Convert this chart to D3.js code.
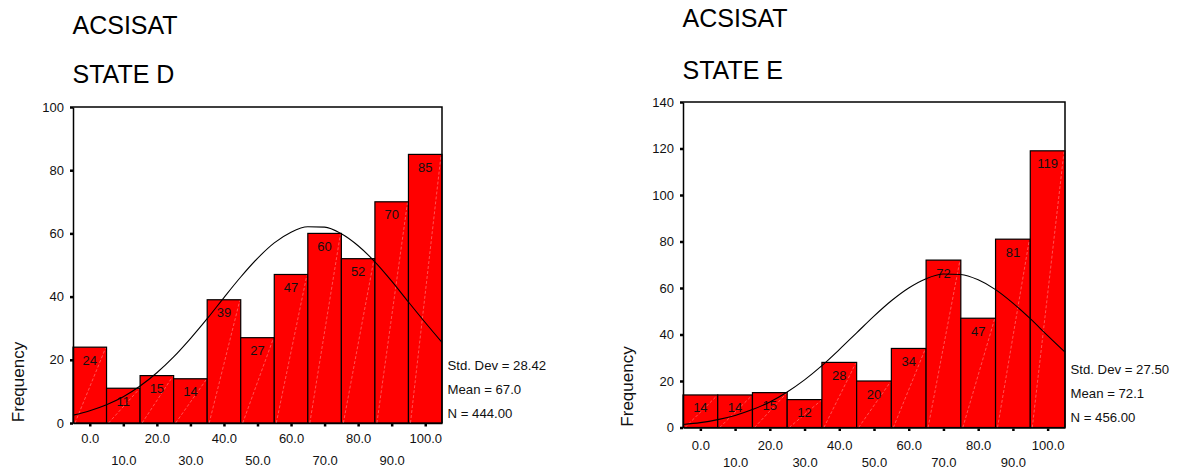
<!DOCTYPE html>
<html>
<head>
<meta charset="utf-8">
<script src="https://cdn.jsdelivr.net/npm/d3@7"></script>
<style>
  body { margin: 0; background: #fff; }
  svg { display: block; font-family: "Liberation Sans", Arial, sans-serif; }
  .domain { stroke: #000; stroke-width: 1.5; }
  .tick line { stroke: #000; stroke-width: 2.5; }
  .tick text { fill: #111; font-size: 13px; }
</style>
</head>
<body>
<svg id="chart" width="1180" height="470"></svg>
<script>
// bin centres (width 10) and frequencies
const bins = [0, 10, 20, 30, 40, 50, 60, 70, 80, 90, 100];
const countsD = [24, 11, 15, 14, 39, 27, 47, 60, 52, 70, 85];
const countsE = [14, 14, 15, 12, 28, 20, 34, 72, 47, 81, 119];

// normal curve
const curveX = [-5, 0, 5, 10, 15, 20, 25, 30, 35, 40, 45, 50, 55, 60, 65, 70, 75, 80, 85, 90, 95, 100, 105];
const curveD = [2.5, 3.9, 5.8, 8.3, 11.7, 15.9, 20.9, 26.7, 33.0, 39.7, 46.2, 52.1, 57.0, 60.4, 62.1, 62.0, 59.9, 56.1, 51.0, 44.9, 38.3, 31.8, 25.5];
const curveE = [1.3, 2.1, 3.4, 5.2, 7.7, 11.0, 15.3, 20.5, 26.6, 33.5, 40.7, 47.9, 54.5, 60.0, 64.0, 66.0, 65.8, 63.5, 59.3, 53.5, 46.8, 39.5, 32.4];

const yTicksD = [0, 20, 40, 60, 80, 100];
const yTicksE = [0, 20, 40, 60, 80, 100, 120, 140];

const statsD = ["Std. Dev = 28.42", "Mean = 67.0", "N = 444.00"];
const statsE = ["Std. Dev = 27.50", "Mean = 72.1", "N = 456.00"];

const titleTop = "ACSISAT";
const titleD = "STATE D";
const titleE = "STATE E";

const svg = d3.select("#chart");

drawPanel({
  left: 73, right: 442, top: 107, bottom: 423,
  yMax: 100, yTicks: yTicksD, counts: countsD, curve: curveD,
  stats: statsD, title: [titleTop, titleD], titleY: [34, 83],
  freqX: 24, evenY: 19.5, oddY: 42
});

drawPanel({
  left: 683, right: 1065, top: 102, bottom: 427.5,
  yMax: 140, yTicks: yTicksE, counts: countsE, curve: curveE,
  stats: statsE, title: [titleTop, titleE], titleY: [26.5, 79],
  freqX: 633, evenY: 22.5, oddY: 39
});

function drawPanel(p) {
  const x = d3.scaleLinear().domain([-5, 105]).range([p.left, p.right]);
  const y = d3.scaleLinear().domain([0, p.yMax]).range([p.bottom, p.top]);
  const g = svg.append("g");

  // titles
  g.selectAll(".title")
    .data(p.title)
    .enter()
    .append("text")
    .attr("x", p.left - 0.5)
    .attr("y", function (d, i) { return p.titleY[i]; })
    .attr("font-size", 25)
    .attr("fill", "#000")
    .text(function (d) { return d; });

  // bars
  const bar = g.selectAll(".bar")
    .data(bins)
    .enter()
    .append("g");

  bar.append("rect")
    .attr("x", function (d) { return x(d - 5); })
    .attr("y", function (d, i) { return y(p.counts[i]); })
    .attr("width", function (d) { return x(d + 5) - x(d - 5); })
    .attr("height", function (d, i) { return p.bottom - y(p.counts[i]); })
    .attr("fill", "#ff0000")
    .attr("stroke", "#000")
    .attr("stroke-width", 1.2);

  bar.append("line")
    .attr("x1", function (d) { return x(d - 5) + 2; })
    .attr("y1", p.bottom)
    .attr("x2", function (d) { return x(d + 5) - 1; })
    .attr("y2", function (d, i) { return y(p.counts[i]) + 1; })
    .attr("stroke", "#fff")
    .attr("stroke-opacity", 0.55)
    .attr("stroke-width", 0.6)
    .attr("stroke-dasharray", "3,2");

  bar.append("text")
    .attr("x", function (d) { return x(d); })
    .attr("y", function (d, i) { return y(p.counts[i]) + 17.5; })
    .attr("text-anchor", "middle")
    .attr("font-size", 13)
    .attr("fill", "#111")
    .text(function (d, i) { return p.counts[i]; });

  // normal curve
  const line = d3.line()
    .x(function (d, i) { return x(curveX[i]); })
    .y(function (d) { return y(d); })
    .curve(d3.curveMonotoneX);

  g.append("path")
    .datum(p.curve)
    .attr("d", line)
    .attr("fill", "none")
    .attr("stroke", "#000")
    .attr("stroke-width", 1.1);

  // frame top / right
  g.append("path")
    .attr("d", "M" + p.left + "," + p.top + "H" + p.right + "V" + p.bottom)
    .attr("fill", "none")
    .attr("stroke", "#000")
    .attr("stroke-width", 1.5);

  // axes
  g.append("g")
    .attr("transform", "translate(" + p.left + ",0)")
    .call(d3.axisLeft(y).tickValues(p.yTicks).tickSizeInner(3).tickSizeOuter(0).tickPadding(6).tickFormat(d3.format("d")));

  const xa = g.append("g")
    .attr("transform", "translate(0," + p.bottom + ")")
    .call(d3.axisBottom(x).tickValues(bins).tickSizeInner(3).tickSizeOuter(0).tickFormat(d3.format(".1f")));

  xa.selectAll(".tick line").attr("y1", 1).attr("y2", 3.5);
  xa.selectAll(".tick text")
    .attr("dy", 0)
    .attr("y", function (d, i) { return i % 2 === 0 ? p.evenY : p.oddY; });

  // y title
  g.append("text")
    .attr("transform", "translate(" + p.freqX + "," + (p.bottom - 41) + ") rotate(-90)")
    .attr("text-anchor", "middle")
    .attr("font-size", 17)
    .attr("fill", "#111")
    .text("Frequency");

  // stats
  g.selectAll(".stat")
    .data(p.stats)
    .enter()
    .append("text")
    .attr("x", p.right + 5.5)
    .attr("y", function (d, i) { return p.bottom - 53.5 + i * 24; })
    .attr("font-size", 13.2)
    .attr("fill", "#111")
    .text(function (d) { return d; });
}
</script>
</body>
</html>
